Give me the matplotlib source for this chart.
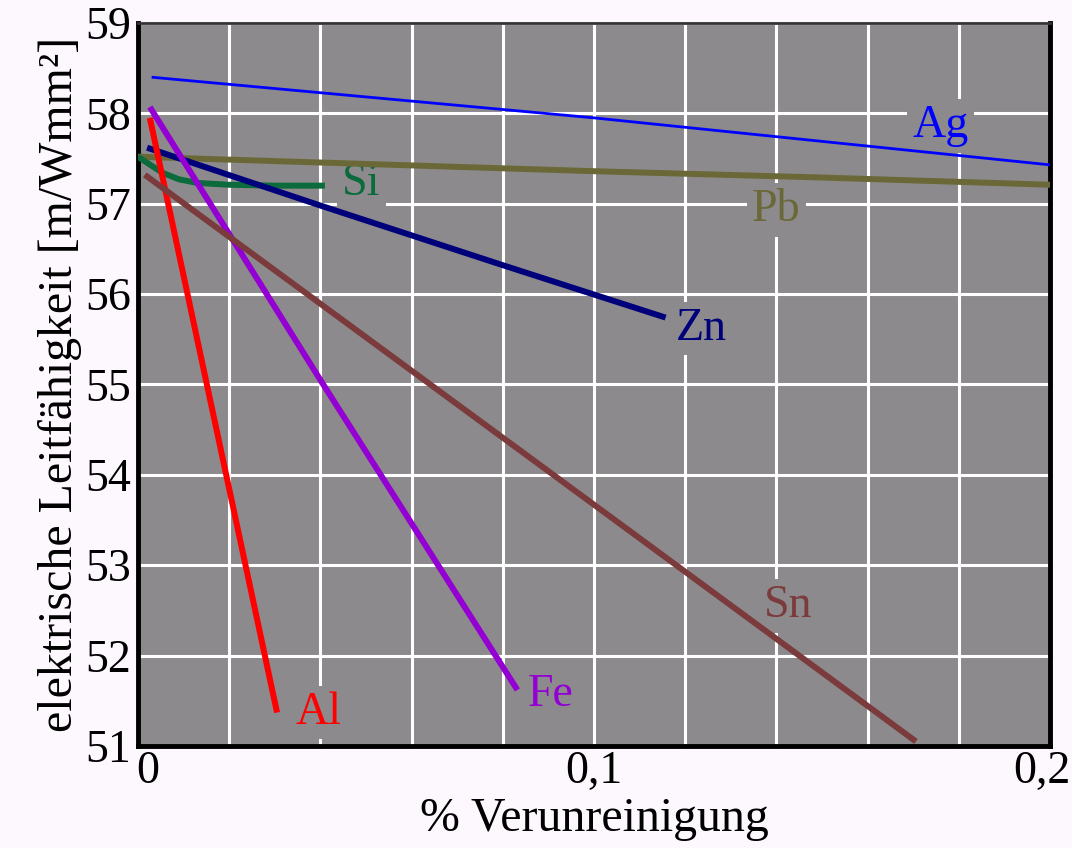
import numpy as np
import matplotlib.pyplot as plt
from matplotlib.transforms import ScaledTranslation

# Values (x in %, y in m/(W mm^2))
ag_x = [0.003, 0.1, 0.2]
ag_y = [58.40, 57.95, 57.43]
pb_x = [0.0, 0.05, 0.1, 0.15, 0.2]
pb_y = [57.52, 57.44, 57.36, 57.29, 57.21]
si_x = [0.0, 0.003, 0.0055, 0.009, 0.013, 0.02, 0.03, 0.041]
si_y = [57.52, 57.42, 57.34, 57.27, 57.23, 57.21, 57.20, 57.20]
zn_x = [0.002, 0.04, 0.08, 0.1157]
zn_y = [57.62, 56.98, 56.32, 55.74]
al_x = [0.0026, 0.0305]
al_y = [57.95, 51.37]
fe_x = [0.0026, 0.04, 0.0832]
fe_y = [58.07, 55.05, 51.62]
sn_x = [0.0015, 0.1, 0.1706]
sn_y = [57.32, 53.67, 51.05]

labels = ["Ag", "Pb", "Si", "Zn", "Al", "Fe", "Sn"]
label_x = [0.176, 0.140, 0.049, 0.1235, 0.0395, 0.0905, 0.1425]
label_y = [57.86, 56.93, 57.22, 55.62, 51.37, 51.57, 52.55]

colors = ["#0000ff", "#6b6838", "#0b6b3c", "#00007b", "#ff0000", "#9400d3", "#7b3a3c"]
widths = [2.0, 4.3, 4.3, 4.3, 4.3, 4.3, 4.3]

bg = "#8c8a8c"
plt.rcParams["font.family"] = ["Liberation Serif", "DejaVu Serif"]

fig = plt.figure(figsize=(10.72, 8.48), dpi=100, facecolor="#fdf8fd")
ax = fig.add_axes([0.1287, 0.1203, 0.8508, 0.8526])
ax.set_facecolor(bg)

series = [(ag_x, ag_y), (pb_x, pb_y), (si_x, si_y), (zn_x, zn_y),
          (al_x, al_y), (fe_x, fe_y), (sn_x, sn_y)]
for (xs, ys), c, w in zip(series, colors, widths):
    ax.plot(xs, ys, color=c, lw=w, solid_capstyle="butt", zorder=4)

for t, tx, ty, c in zip(labels, label_x, label_y, colors):
    ax.text(tx, ty, t, color=c, fontsize=33,
            ha="center", va="center", zorder=3,
            bbox=dict(boxstyle="square,pad=0.12", fc=bg, ec="none"))

ax.set_xlim(0, 0.2)
ax.set_ylim(51, 59)
ax.set_xticks(np.arange(0, 0.2001, 0.02), minor=True)
ax.set_xticks([0, 0.1, 0.2])
ax.set_xticklabels(["0", "0,1", "0,2"])
ax.set_yticks(range(51, 60))
ax.grid(True, which="both", color="white", lw=2.2, zorder=1)
ax.set_axisbelow(True)
ax.tick_params(which="both", length=0, labelsize=33)
ax.tick_params(axis="y", pad=5)
ax.tick_params(axis="x", pad=3)

# nudge first/last x tick labels like the original
xt = ax.get_xticklabels()
xt[0].set_transform(xt[0].get_transform() + ScaledTranslation(0.10, 0, fig.dpi_scale_trans))
xt[-1].set_transform(xt[-1].get_transform() + ScaledTranslation(-0.08, 0, fig.dpi_scale_trans))

for side in ["left", "bottom", "right"]:
    ax.spines[side].set_linewidth(3.5)
    ax.spines[side].set_color("black")
ax.spines["top"].set_linewidth(2)
ax.spines["top"].set_color("#333333")

ax.set_xlabel("% Verunreinigung", fontsize=34.5, labelpad=3)
ax.set_ylabel("elektrische Leitfähigkeit [m/Wmm²]", fontsize=34.5, labelpad=2)

fig.savefig("out.png", dpi=100, facecolor=fig.get_facecolor())
